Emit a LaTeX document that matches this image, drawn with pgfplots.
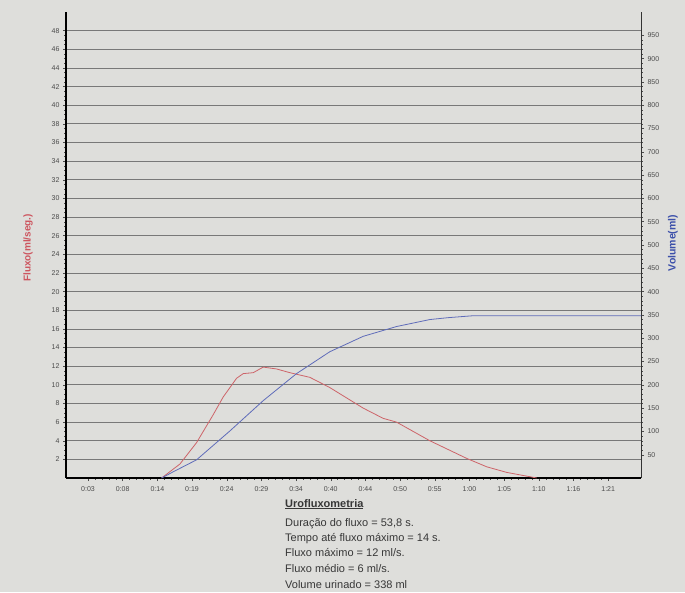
\documentclass[border=0pt]{standalone}
\usepackage{pgfplots}
\pgfplotsset{compat=1.18}
\usepackage{fontspec}
\setmainfont{Liberation Sans}
\definecolor{paper}{RGB}{222,222,219}
\definecolor{gridc}{RGB}{120,120,120}
\definecolor{tickc}{RGB}{75,75,75}
\definecolor{flowc}{RGB}{205,100,105}
\definecolor{volc}{RGB}{95,108,185}
\definecolor{flowlab}{RGB}{205,85,95}
\definecolor{vollab}{RGB}{60,80,170}
\definecolor{txtc}{RGB}{55,55,55}
\pgfplotstableread{
t f
14.05 0
16.8 1.5
19.3 3.8
21.8 6.8
23.3 8.7
25.3 10.7
26.3 11.2
27.8 11.3
29.3 11.9
31.3 11.7
33.3 11.3
36.3 10.8
39.3 9.7
44.3 7.5
47.3 6.4
49.3 6.0
54.3 4.0
59.85 2.1
62.85 1.2
65.85 0.6
70.35 0
}\flowdata
\pgfplotstableread{
t v
14.05 0
15.75 13
19.3 39
24.3 101
29.3 166
34.3 224
39.3 271
44.3 304
49.3 325
54.3 340
57.0 344
60.6 348
86.0 348
}\voldata
\begin{document}
\begin{tikzpicture}[x=1pt,y=1pt]
\fill[paper] (0,0) rectangle (685,592);
\useasboundingbox (0,0) rectangle (685,592);
\begin{axis}[
  at={(66pt,114pt)}, anchor=south west,
  scale only axis, width=575pt, height=466pt,
  xmin=-0.3, xmax=86, ymin=0, ymax=50,
  axis x line*=bottom, axis y line*=left,
  axis line style={black, line width=1.2pt},
  tick align=outside,
  major tick length=3pt, minor tick length=1.8pt,
  every tick/.style={tickc, line width=0.4pt},
  ytick={2,4,...,48},
  minor y tick num=3,
  xtick={3,8.205,13.41,18.615,23.82,29.025,34.23,39.435,44.64,49.845,55.05,60.255,65.46,70.665,75.87,81.075},
  xticklabels={0:03,0:08,0:14,0:19,0:24,0:29,0:34,0:40,0:44,0:50,0:55,1:00,1:05,1:10,1:16,1:21},
  minor x tick num=4,
  ymajorgrids=true,
  major grid style={gridc, line width=0.7pt},
  ticklabel style={font=\fontsize{7}{8}\selectfont, text=tickc},
  yticklabel style={/pgf/number format/assume math mode=true},
  xticklabel style={yshift=-2pt},
  clip=false,
]
\addplot[flowc, line width=0.8pt, no markers] table[x=t, y=f] {\flowdata};
\end{axis}
\begin{axis}[
  at={(66pt,114pt)}, anchor=south west,
  scale only axis, width=575pt, height=466pt,
  xmin=-0.3, xmax=86, ymin=0, ymax=1000,
  axis y line*=right, axis x line=none,
  axis line style={black!80, line width=0.8pt},
  tick align=outside,
  major tick length=3pt, minor tick length=1.8pt,
  every tick/.style={tickc, line width=0.4pt},
  ytick={50,100,...,950},
  minor y tick num=4,
  ticklabel style={font=\fontsize{7}{8}\selectfont, text=tickc},
  yticklabel style={/pgf/number format/assume math mode=true},
]
\addplot[volc, line width=0.8pt, no markers] table[x=t, y=v] {\voldata};
\end{axis}
\node[rotate=90, font=\bfseries\fontsize{10}{12}\selectfont, text=flowlab] at (28,344) {Fluxo(ml/seg.)};
\node[rotate=90, font=\bfseries\fontsize{10.5}{12}\selectfont, text=vollab] at (673,349) {Volume(ml)};
\begin{scope}[every node/.style={anchor=base west, inner sep=0pt, text=txtc, font=\fontsize{11}{13}\selectfont}]
\node[font=\bfseries\fontsize{11}{13}\selectfont] at (285,85) {\underline{Urofluxometria}};
\node at (285,66) {Duração do fluxo = 53,8 s.};
\node at (285,51) {Tempo até fluxo máximo = 14 s.};
\node at (285,36) {Fluxo máximo = 12 ml/s.};
\node at (285,20) {Fluxo médio = 6 ml/s.};
\node at (285,4) {Volume urinado = 338 ml};
\end{scope}
\end{tikzpicture}
\end{document}
